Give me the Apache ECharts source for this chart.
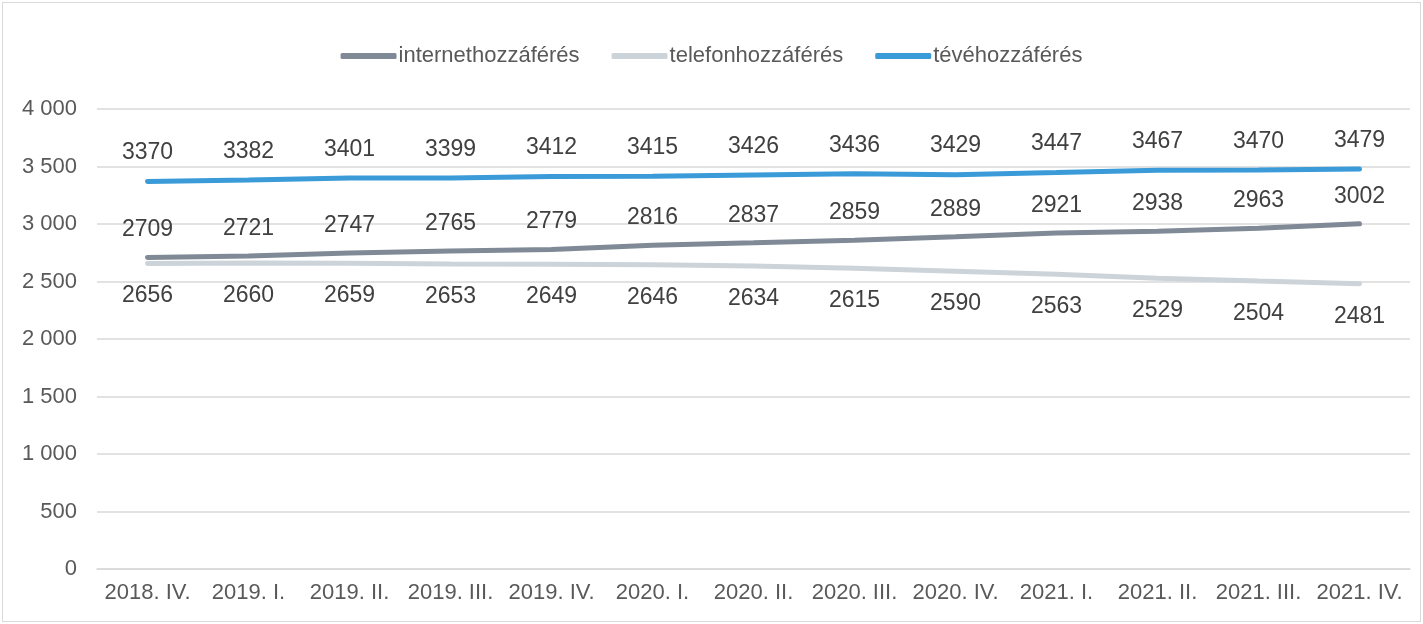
<!DOCTYPE html>
<html lang="hu">
<head>
    <meta charset="UTF-8">
    <title>Hozzáférések</title>
    <style>
        html, body { margin: 0; padding: 0; background: #fff; }
        #main { position: absolute; left: 2px; top: 2px; width: 1417px; height: 618px; border: 1px solid #d9d9d9; }
    </style>
</head>
<body>
<div id="main"></div>
<script src="https://cdn.jsdelivr.net/npm/echarts@6/dist/echarts.min.js"></script>
<script>
var categories = ['2018. IV.', '2019. I.', '2019. II.', '2019. III.', '2019. IV.', '2020. I.', '2020. II.',
    '2020. III.', '2020. IV.', '2021. I.', '2021. II.', '2021. III.', '2021. IV.'];
var internetData = [2709, 2721, 2747, 2765, 2779, 2816, 2837, 2859, 2889, 2921, 2938, 2963, 3002];
var telefonData = [2656, 2660, 2659, 2653, 2649, 2646, 2634, 2615, 2590, 2563, 2529, 2504, 2481];
var teveData = [3370, 3382, 3401, 3399, 3412, 3415, 3426, 3436, 3429, 3447, 3467, 3470, 3479];

var fontName = '"Liberation Sans", Arial, sans-serif';

function lineSeries(name, data, color, pos, dist) {
    return {
        name: name,
        type: 'line',
        data: data,
        symbol: 'circle',
        symbolSize: 0.1,
        showSymbol: true,
        lineStyle: { color: color, width: 5, cap: 'round' },
        itemStyle: { color: color },
        label: {
            show: true,
            position: pos,
            distance: dist,
            color: '#404040',
            fontSize: 23,
            fontFamily: fontName
        }
    };
}

var myChart = echarts.init(document.getElementById('main'));
var option = {
    animation: false,
    textStyle: { fontFamily: fontName },
    legend: {
        top: 37,
        left: 'center',
        icon: 'roundRect',
        itemWidth: 56,
        itemHeight: 6,
        itemGap: 32,
        textStyle: { color: '#595959', fontSize: 22, fontFamily: fontName, padding: [0, 0, 0, -3] },
        data: ['internethozzáférés', 'telefonhozzáférés', 'tévéhozzáférés']
    },
    grid: { left: 94, right: 10, top: 106, bottom: 52 },
    xAxis: {
        type: 'category',
        data: categories,
        boundaryGap: true,
        axisTick: { show: false },
        axisLine: { lineStyle: { color: '#d9d9d9', width: 1.5 } },
        axisLabel: { color: '#595959', fontSize: 22, margin: 13, interval: 0 }
    },
    yAxis: {
        type: 'value',
        min: 0,
        max: 4000,
        interval: 500,
        axisLine: { show: false },
        axisTick: { show: false },
        splitLine: { lineStyle: { color: '#d9d9d9', width: 1.5 } },
        axisLabel: {
            color: '#595959', fontSize: 22, margin: 20,
            formatter: function (v) { return v >= 1000 ? Math.floor(v / 1000) + ' ' + String(v % 1000).padStart(3, '0') : String(v); }
        }
    },
    series: [
        lineSeries('internethozzáférés', internetData, '#7f8a96', 'top', 16),
        lineSeries('telefonhozzáférés', telefonData, '#ccd4da', 'bottom', 21),
        lineSeries('tévéhozzáférés', teveData, '#3a9bd8', 'top', 17)
    ]
};
myChart.setOption(option);
</script>
</body>
</html>
